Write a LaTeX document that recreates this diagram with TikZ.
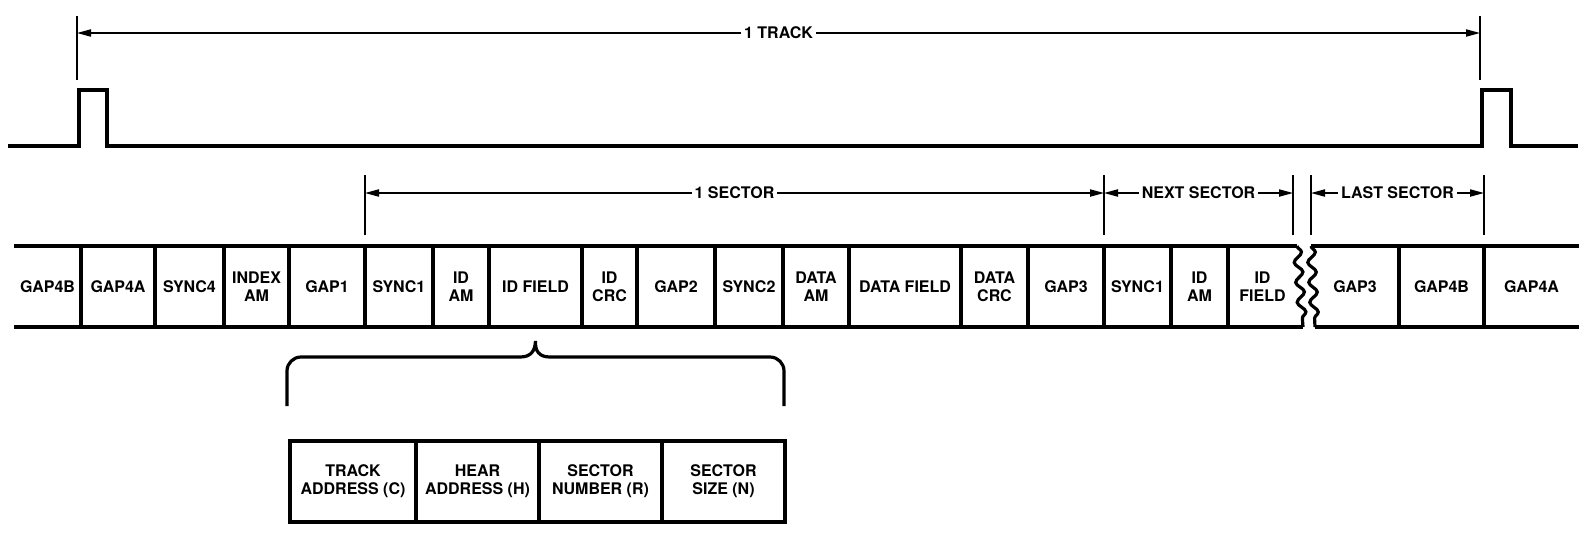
\documentclass[tikz,border=0pt]{standalone}
\usepackage{fontspec}
\setmainfont{TeX Gyre Heros}
\usetikzlibrary{arrows.meta, positioning, decorations.pathmorphing}

\begin{document}
\begin{tikzpicture}[
  x=1pt, y=-1pt,
  font=\fontsize{8}{9}\selectfont\bfseries,
  cell/.style={inner sep=0pt, outer sep=0pt, minimum height=40.5pt, align=center},
  field/.style={draw, line width=1.6pt, inner sep=0pt, outer sep=0pt, minimum height=40.5pt, align=center},
  rail/.style={line width=2pt},
  div/.style={line width=1.6pt},
  tick/.style={line width=0.7pt},
  dim/.style={line width=0.7pt, {Triangle[length=7pt,width=3.6pt]}-{Triangle[length=7pt,width=3.6pt]}},
  lbl/.style={fill=white, inner sep=1.5pt},
  pulse/.style={line width=2pt, line join=miter}
]
\useasboundingbox (0,0) rectangle (792.5,266);

% index pulses
\draw[pulse] (4,73) -- (39.5,73) -- (39.5,45) -- (53.5,45) -- (53.5,73) -- (741,73) -- (741,45) -- (755.5,45) -- (755.5,73) -- (789,73);

% one track
\coordinate (trkA) at (38.5,16.5);
\coordinate (trkB) at (740,16.5);
\draw[tick] ([yshift=8.5pt]trkA) -- ++(0,32);
\draw[tick] ([yshift=8.5pt]trkB) -- ++(0,32);
\draw[dim] (trkA) -- node[lbl] {1 TRACK} (trkB);

% track strip
\node[cell, minimum width=33.5pt, anchor=north west] (gapfourb) at (7,123) {GAP4B};
\node[cell, minimum width=37pt, right=0pt of gapfourb] (gapfoura) {GAP4A};
\node[cell, minimum width=34.5pt, right=0pt of gapfoura] (syncfour) {SYNC4};
\node[cell, minimum width=32.5pt, right=0pt of syncfour] (indexam) {INDEX\\AM};
\node[cell, minimum width=38pt, right=0pt of indexam] (gapone) {GAP1};
\node[cell, minimum width=34pt, right=0pt of gapone] (syncone) {SYNC1};
\node[cell, minimum width=28pt, right=0pt of syncone] (idam) {ID\\AM};
\node[cell, minimum width=46.5pt, right=0pt of idam] (idfield) {ID FIELD};
\node[cell, minimum width=27.5pt, right=0pt of idfield] (idcrc) {ID\\CRC};
\node[cell, minimum width=39pt, right=0pt of idcrc] (gaptwo) {GAP2};
\node[cell, minimum width=34pt, right=0pt of gaptwo] (synctwo) {SYNC2};
\node[cell, minimum width=33pt, right=0pt of synctwo] (dataam) {DATA\\AM};
\node[cell, minimum width=56pt, right=0pt of dataam] (datafield) {DATA FIELD};
\node[cell, minimum width=33.5pt, right=0pt of datafield] (datacrc) {DATA\\CRC};
\node[cell, minimum width=38pt, right=0pt of datacrc] (gapthree) {GAP3};
\node[cell, minimum width=33.5pt, right=0pt of gapthree] (nsync) {SYNC1};
\node[cell, minimum width=28.5pt, right=0pt of nsync] (nidam) {ID\\AM};
\node[cell, minimum width=34.5pt, right=0pt of nidam] (nidfield) {ID\\FIELD};

\node[cell, minimum width=44pt, anchor=north west] (lgapthree) at (655.5,123) {GAP3};
\node[cell, minimum width=42.5pt, right=0pt of lgapthree] (lgapfourb) {GAP4B};
\node[cell, minimum width=47.5pt, right=0pt of lgapfourb] (lgapfoura) {GAP4A};

\foreach \n in {gapfourb, gapfoura, syncfour, indexam, gapone, syncone, idam, idfield, idcrc, gaptwo, synctwo, dataam, datafield, datacrc, gapthree, nsync, nidam, lgapthree, lgapfourb}
  \draw[div] (\n.north east) -- (\n.south east);

\draw[rail] (gapfourb.north west) -- (nidfield.north east);
\draw[rail] (gapfourb.south west) -- ([xshift=3pt]nidfield.south east);
\draw[rail] (lgapthree.north west) -- (lgapfoura.north east);
\draw[rail] ([xshift=2pt]lgapthree.south west) -- (lgapfoura.south east);

% break
\draw[div, decorate, decoration={snake, amplitude=2pt, segment length=10pt}] (nidfield.north east) -- ([xshift=3pt]nidfield.south east);
\draw[div, decorate, decoration={snake, amplitude=2pt, segment length=10pt}] (lgapthree.north west) -- ([xshift=2pt]lgapthree.south west);

% sectors
\foreach \n in {syncone, nsync, lgapthree, lgapfoura}
  \draw[tick] ([yshift=5.5pt]\n.north west) -- ++(0,-30);
\draw[tick] ([xshift=-2pt,yshift=5.5pt]nidfield.north east) -- ++(0,-30);
\draw[dim] ([yshift=26.5pt]syncone.north west) -- node[lbl] {1 SECTOR} ([yshift=26.5pt]nsync.north west);
\draw[dim] ([yshift=26.5pt]nsync.north west) -- node[lbl] {NEXT SECTOR} ([xshift=-2pt,yshift=26.5pt]nidfield.north east);
\draw[dim] ([yshift=26.5pt]lgapthree.north west) -- node[lbl] {LAST SECTOR} ([yshift=26.5pt]lgapfoura.north west);

% id field brace
\draw[div, rounded corners=7pt] (143.5,203) -- (143.5,178.5) -- (260,178.5);
\draw[div, rounded corners=7pt] (275,178.5) -- (392,178.5) -- (392,203);
\draw[div] (260,178.5) .. controls (265.5,178.5) and (267.5,175.5) .. ([yshift=-7pt]idfield.south) .. controls (267.5,175.5) and (269.5,178.5) .. (275,178.5);

% id field contents
\node[field, minimum width=63pt, anchor=north west] (trkaddr) at (145,220.5) {TRACK\\ADDRESS (C)};
\node[field, minimum width=61.5pt, right=0pt of trkaddr] (headaddr) {HEAR\\ADDRESS (H)};
\node[field, minimum width=61.5pt, right=0pt of headaddr] (secnum) {SECTOR\\NUMBER (R)};
\node[field, minimum width=61.5pt, right=0pt of secnum] (secsize) {SECTOR\\SIZE (N)};
\end{tikzpicture}
\end{document}
